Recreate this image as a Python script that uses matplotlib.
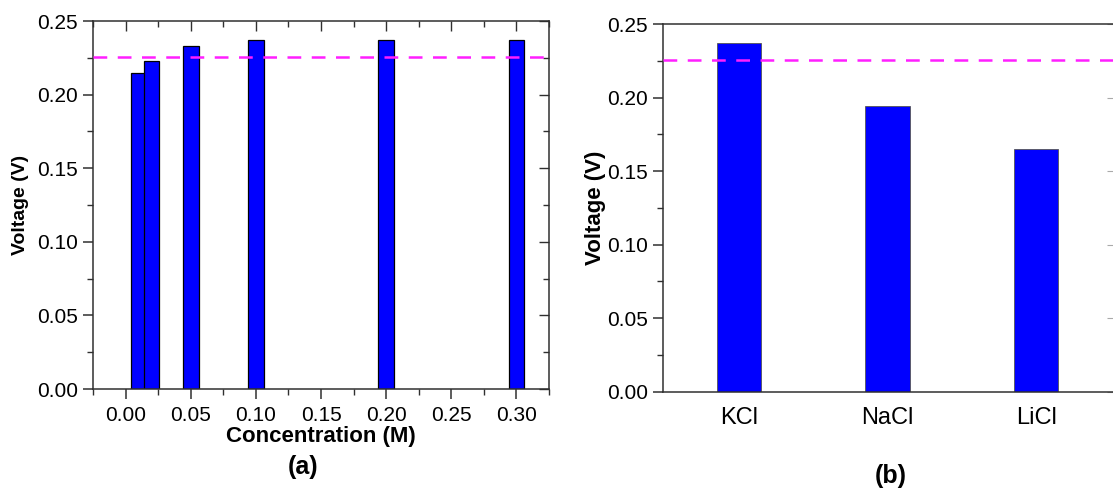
import numpy as np
import matplotlib
matplotlib.use('Agg')
import matplotlib.pyplot as plt
from matplotlib.ticker import MultipleLocator

plt.rcParams['font.family'] = ['Liberation Sans', 'DejaVu Sans']

# data
conc = [0.01, 0.02, 0.05, 0.10, 0.20, 0.30]          # M
v_conc = [0.215, 0.223, 0.233, 0.237, 0.237, 0.237]  # V
salts = ['KCl', 'NaCl', 'LiCl']
v_salt = [0.237, 0.194, 0.165]
v_ref = 0.2255

bar_col = '#0000ff'
dash_col = '#ff1fff'
frame_col = '#303030'

fig = plt.figure(figsize=(11.13, 4.9), dpi=100)

# ---------------- (a) voltage vs concentration
ax1 = fig.add_axes([0.0836, 0.2061, 0.4097, 0.751])
ax1.bar(conc, v_conc, width=0.012, color=bar_col, edgecolor='black', linewidth=0.9, zorder=2)
ax1.axhline(v_ref, color=dash_col, lw=1.8, dashes=(5.5, 4.2), zorder=3)
ax1.set_xlim(-0.025, 0.325)
ax1.set_ylim(0, 0.25)
ax1.xaxis.set_major_locator(MultipleLocator(0.05))
ax1.xaxis.set_minor_locator(MultipleLocator(0.025))
ax1.yaxis.set_major_locator(MultipleLocator(0.05))
ax1.yaxis.set_minor_locator(MultipleLocator(0.025))
ax1.xaxis.set_major_formatter(lambda x, p: '%.2f' % x)
ax1.yaxis.set_major_formatter(lambda x, p: '%.2f' % x)
ax1.tick_params(which='major', direction='out', length=7, width=1.1, color=frame_col,
                labelsize=15, pad=4)
ax1.tick_params(which='minor', direction='out', length=4, width=1.0, color=frame_col)
ax1.tick_params(axis='x', pad=5)

top1 = ax1.secondary_xaxis('top')
top1.xaxis.set_major_locator(MultipleLocator(0.05))
top1.xaxis.set_minor_locator(MultipleLocator(0.025))
top1.tick_params(which='both', direction='in', labeltop=False, color=frame_col, width=1.0)
top1.tick_params(which='major', length=7)
top1.tick_params(which='minor', length=4)
right1 = ax1.secondary_yaxis('right')
right1.yaxis.set_major_locator(MultipleLocator(0.05))
right1.yaxis.set_minor_locator(MultipleLocator(0.025))
right1.tick_params(which='both', direction='in', labelright=False, color=frame_col, width=1.0)
right1.tick_params(which='major', length=7)
right1.tick_params(which='minor', length=4)
for s in ['top', 'right']:
    top1.spines[s].set_visible(False)
    right1.spines[s].set_visible(False)

for sp in ax1.spines.values():
    sp.set_color(frame_col)
    sp.set_linewidth(1.1)

ax1.set_xlabel('Concentration (M)', fontsize=16, fontweight='bold', labelpad=1)
ax1.set_ylabel('Voltage (V)', fontsize=14, fontweight='bold', va='center')
ax1.yaxis.set_label_coords(-0.16, 0.5)

# ---------------- (b) voltage vs salt
ax2 = fig.add_axes([0.596, 0.2006, 0.405, 0.7504])
xs = np.arange(1, len(salts) + 1)
ax2.bar(xs, v_salt, width=0.3, color=bar_col, edgecolor='#555555', linewidth=0.6, zorder=2)
ax2.axhline(v_ref, color=dash_col, lw=1.8, dashes=(5.5, 4.2), zorder=3)
ax2.set_xlim(0.49, 3.525)
ax2.set_ylim(0, 0.25)
ax2.set_xticks(xs)
ax2.set_xticklabels(salts)
ax2.yaxis.set_major_locator(MultipleLocator(0.05))
ax2.yaxis.set_minor_locator(MultipleLocator(0.025))
ax2.yaxis.set_major_formatter(lambda x, p: '%.2f' % x)
ax2.tick_params(axis='x', length=0, labelsize=17, pad=11)
ax2.tick_params(axis='y', which='major', direction='out', length=7, width=1.1,
                color=frame_col, labelsize=15, pad=4)
ax2.tick_params(axis='y', which='minor', direction='out', length=4, width=1.0, color=frame_col)

right2 = ax2.secondary_yaxis('right')
right2.yaxis.set_major_locator(MultipleLocator(0.05))
right2.tick_params(direction='in', labelright=False, length=5, width=0.8, color='#aaaaaa')
right2.spines['right'].set_visible(False)

for sp in ax2.spines.values():
    sp.set_color(frame_col)
    sp.set_linewidth(1.1)

ax2.set_ylabel('Voltage (V)', fontsize=16, fontweight='bold', va='center')
ax2.yaxis.set_label_coords(-0.1515, 0.5)

fig.text(0.272, 0.047, '(a)', fontsize=18, fontweight='bold', ha='center', va='center')
fig.text(0.800, 0.029, '(b)', fontsize=18, fontweight='bold', ha='center', va='center')

fig.savefig('out.png', dpi=100)
